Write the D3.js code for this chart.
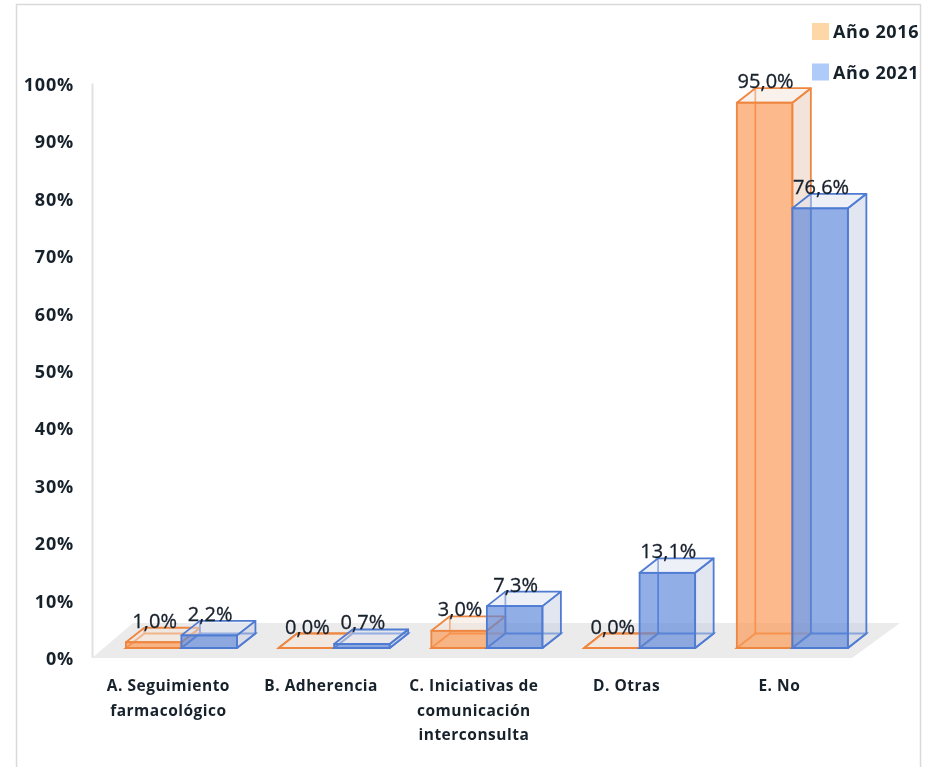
<!DOCTYPE html>
<html>
<head>
<meta charset="utf-8">
<script src="https://cdn.jsdelivr.net/npm/d3@7"></script>
<style>
  html, body { margin: 0; padding: 0; background: #fff; }
  text { font-family: "Open Sans", sans-serif; fill: #17202c; }
  .tick text, .cat, .leg { font-weight: 700; }
</style>
</head>
<body>
<div id="chart"></div>
<script>
// Data
const categories = ["A. Seguimiento|farmacológico", "B. Adherencia", "C. Iniciativas de|comunicación|interconsulta", "D. Otras", "E. No"];
const seriesNames = ["Año 2016", "Año 2021"];
const values2016 = [1.0, 0.0, 3.0, 0.0, 95.0];
const values2021 = [2.2, 0.7, 7.3, 13.1, 76.6];
const tickValues = [0, 10, 20, 30, 40, 50, 60, 70, 80, 90, 100];

const width = 930, height = 767;

const colors = {
  "Año 2016": { front: "#fb9a55", stroke: "#ee8640", side: "#e8c8b4", top: "#f3e3d8", legend: "#fdd7a5" },
  "Año 2021": { front: "#5d88da", stroke: "#4f7cd2", side: "#c4cde2", top: "#dde2ef", legend: "#aecbfa" }
};

const svg = d3.select("#chart")
  .append("svg")
  .attr("width", width)
  .attr("height", height)
  .style("display", "block");

svg.append("defs").append("filter")
  .attr("id", "soft")
  .append("feGaussianBlur")
  .attr("stdDeviation", 0.55);

const root = svg.append("g").attr("filter", "url(#soft)");

// picture frame
root.append("path")
  .attr("d", "M16.5,767V4.5H920.5V767")
  .attr("fill", "none")
  .attr("stroke", "#d9d9d9")
  .attr("stroke-width", 1.5);

const y = d3.scaleLinear().domain([0, 100]).range([657, 83]);

const x0 = d3.scaleBand()
  .domain(categories)
  .range([105, 868.75])
  .paddingInner(0.273)
  .paddingOuter(0.1367);

const x1 = d3.scaleBand()
  .domain(seriesNames)
  .range([0, x0.bandwidth()]);

// depth of the 3D box, and how far the bars sit behind the floor edge
const depthX = 18.5, depthY = 14.5, lift = 9;

// floor
const floorLeft = 92, floorRight = 852;
root.append("polygon")
  .attr("points", [
    [floorLeft, y(0) + 1], [floorLeft + 41, y(0) - 34],
    [floorRight + 48, y(0) - 34], [floorRight, y(0) + 1]
  ].join(" "))
  .attr("fill", "#ebebeb");

// y axis
const axis = root.append("g")
  .attr("transform", "translate(92,0)")
  .call(d3.axisLeft(y).tickValues(tickValues).tickSize(0).tickPadding(18).tickFormat(d => d + "%"));
axis.select(".domain").attr("stroke", "#e2e2e2").attr("stroke-width", 2);
axis.selectAll("text")
  .style("font-size", "18px")
  .style("letter-spacing", "0.8px")
  .attr("dy", "0.42em");

// bars
const rows = [];
categories.forEach((c, i) => {
  rows.push({ cat: c, name: seriesNames[0], value: values2016[i] });
  rows.push({ cat: c, name: seriesNames[1], value: values2021[i] });
});

const bar = root.selectAll("g.bar")
  .data(rows)
  .enter()
  .append("g")
  .attr("class", "bar");

const pts = a => a.map(p => p.join(",")).join(" ");

function box(d) {
  const l = x0(d.cat) + x1(d.name), r = l + x1.bandwidth();
  const b = y(0) - lift, t = y(d.value) - lift;
  return { l, r, b, t };
}

// floor of the box, back wall, side, top: all see-through
bar.append("polygon")
  .attr("points", d => { const s = box(d); return pts([[s.l, s.b], [s.l + depthX, s.b - depthY], [s.r + depthX, s.b - depthY], [s.r, s.b]]); })
  .attr("fill", "#f3ece6").attr("fill-opacity", 0.6)
  .attr("stroke", d => colors[d.name].stroke).attr("stroke-width", 1.8);

bar.append("line")
  .attr("x1", d => box(d).l + depthX).attr("x2", d => box(d).l + depthX)
  .attr("y1", d => box(d).b - depthY).attr("y2", d => box(d).t - depthY)
  .attr("stroke", d => colors[d.name].stroke).attr("stroke-width", 1.8);

bar.append("polygon")
  .attr("points", d => { const s = box(d); return pts([[s.r, s.b], [s.r + depthX, s.b - depthY], [s.r + depthX, s.t - depthY], [s.r, s.t]]); })
  .attr("fill", d => colors[d.name].side).attr("fill-opacity", 0.5)
  .attr("stroke", d => colors[d.name].stroke).attr("stroke-width", 1.8).attr("stroke-linejoin", "round");

bar.append("polygon")
  .attr("points", d => { const s = box(d); return pts([[s.l, s.t], [s.l + depthX, s.t - depthY], [s.r + depthX, s.t - depthY], [s.r, s.t]]); })
  .attr("fill", d => colors[d.name].top).attr("fill-opacity", 0.5)
  .attr("stroke", d => colors[d.name].stroke).attr("stroke-width", 1.8).attr("stroke-linejoin", "round");

bar.append("rect")
  .attr("x", d => box(d).l)
  .attr("y", d => box(d).t)
  .attr("width", x1.bandwidth())
  .attr("height", d => box(d).b - box(d).t)
  .attr("fill", d => colors[d.name].front).attr("fill-opacity", 0.68)
  .attr("stroke", d => colors[d.name].stroke).attr("stroke-width", 1.8);

// data labels
root.selectAll("text.val")
  .data(rows)
  .enter()
  .append("text")
  .attr("class", "val")
  .attr("x", d => box(d).l + x1.bandwidth() / 2 + 1)
  .attr("y", d => box(d).t - depthY)
  .attr("text-anchor", "middle")
  .style("font-size", "20px")
  .style("stroke", "#17202c")
  .style("stroke-width", "0.3px")
  .text(d => d.value.toFixed(1).replace(".", ",") + "%");

// category labels
const cat = root.selectAll("text.cat")
  .data(categories)
  .enter()
  .append("text")
  .attr("class", "cat")
  .attr("text-anchor", "middle")
  .style("font-size", "15.5px")
  .style("letter-spacing", "0.5px");

cat.selectAll("tspan")
  .data(d => d.split("|").map(line => ({ line, cat: d })))
  .enter()
  .append("tspan")
  .attr("x", d => x0(d.cat) + x0.bandwidth() / 2 - 13)
  .attr("y", (d, i) => 691 + i * 24.5)
  .text(d => d.line);

// legend
const legend = root.selectAll("g.leg")
  .data(seriesNames)
  .enter()
  .append("g")
  .attr("class", "leg")
  .attr("transform", (d, i) => "translate(812," + (23 + i * 40.5) + ")");

legend.append("rect")
  .attr("width", 17)
  .attr("height", 17)
  .attr("fill", d => colors[d].legend);

legend.append("text")
  .attr("x", 21)
  .attr("y", 15)
  .style("font-size", "18px")
  .style("letter-spacing", "0.6px")
  .text(d => d);
</script>
</body>
</html>
